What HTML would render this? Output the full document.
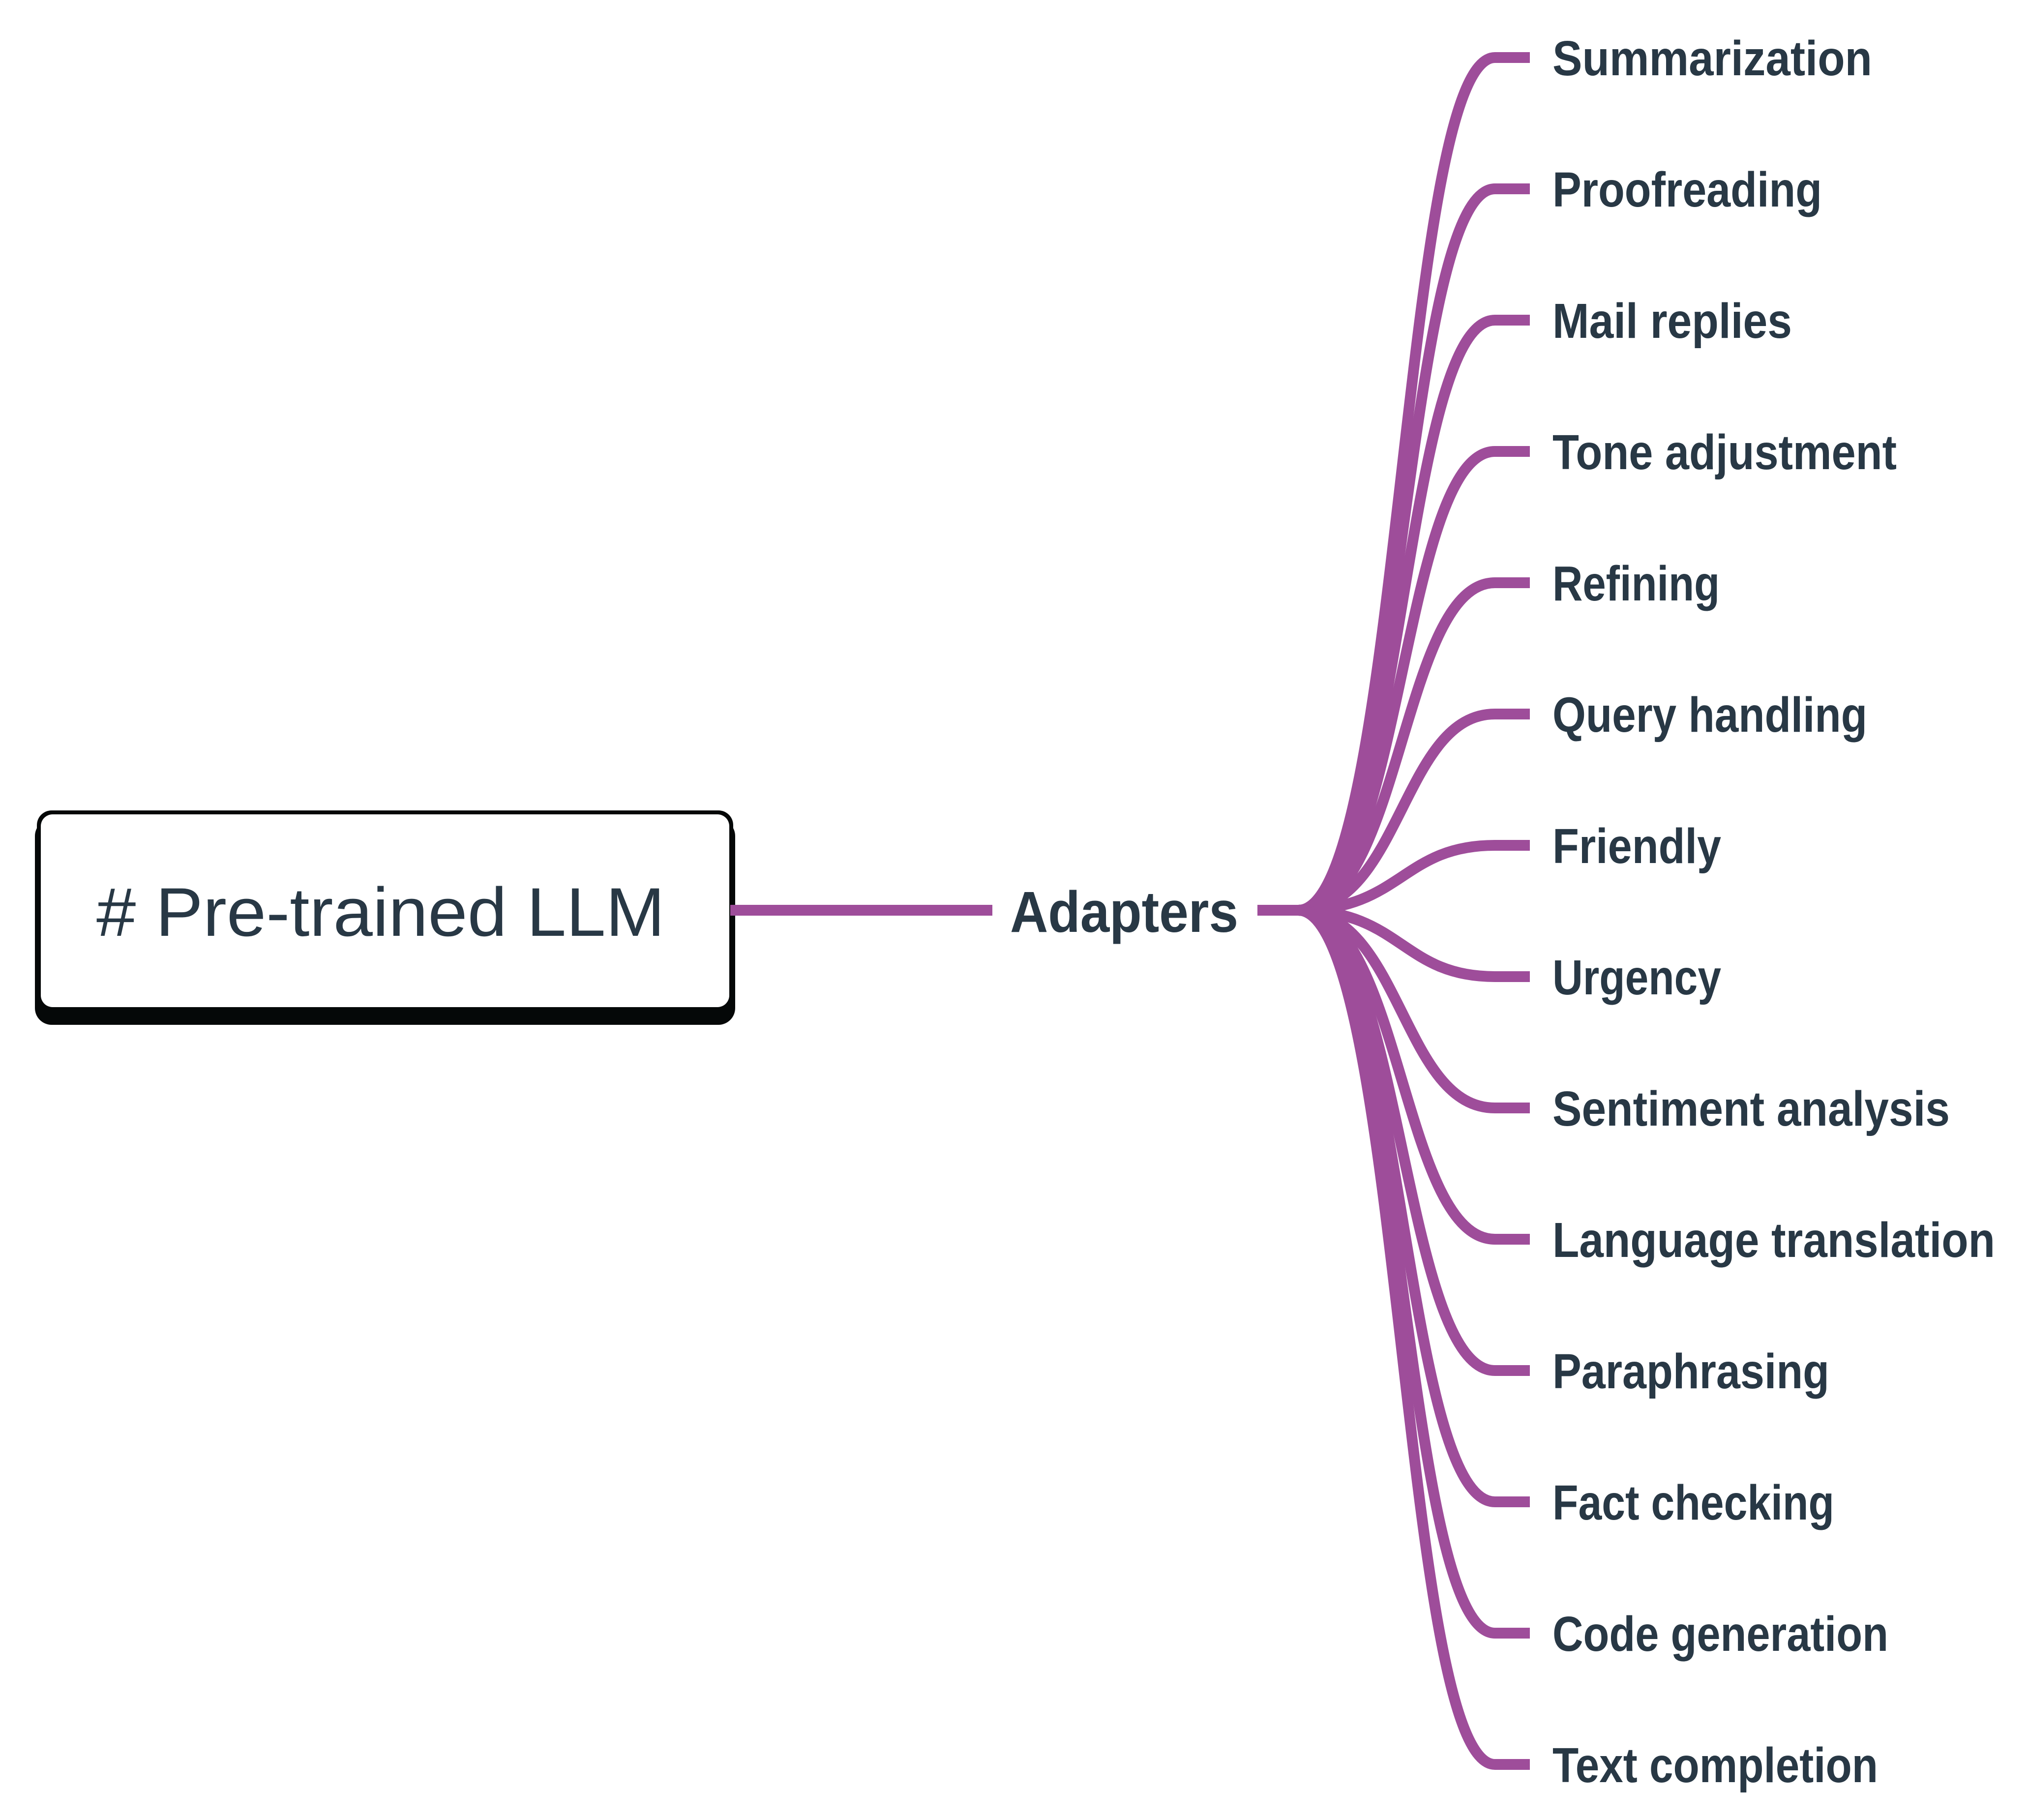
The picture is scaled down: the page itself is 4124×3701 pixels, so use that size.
<!DOCTYPE html>
<html><head><meta charset="utf-8"><style>
html,body{margin:0;padding:0;background:#fff;}
svg{display:block;}
text{font-family:"Liberation Sans","DejaVu Sans",sans-serif;fill:#283845;}
</style></head><body>
<svg width="4124" height="3701" viewBox="0 0 4124 3701" xmlns="http://www.w3.org/2000/svg">
<rect x="0" y="0" width="4124" height="3701" fill="#fff"/>
<!-- root box shadow + border -->
<rect x="71" y="1666" width="1424" height="418" rx="34" fill="#050808"/>
<rect x="75" y="1648" width="1416" height="408" rx="30" fill="#050808"/>
<rect x="83" y="1656" width="1400" height="392" rx="24" fill="#fff"/>
<text x="196" y="1903" font-size="140" textLength="1156" lengthAdjust="spacingAndGlyphs">#  Pre-trained LLM</text>
<g stroke="#9e4d9a" stroke-width="22" fill="none" stroke-linecap="butt">
<line x1="1485" y1="1851" x2="2018" y2="1851"/>
<line x1="2557" y1="1851" x2="2645" y2="1851"/>
<path d="M2640,1851 C2850,1851 2850,117 3040,117 L3111,117"/>
<path d="M2640,1851 C2850,1851 2850,384 3040,384 L3111,384"/>
<path d="M2640,1851 C2850,1851 2850,651 3040,651 L3111,651"/>
<path d="M2640,1851 C2850,1851 2850,918 3040,918 L3111,918"/>
<path d="M2640,1851 C2850,1851 2850,1185 3040,1185 L3111,1185"/>
<path d="M2640,1851 C2850,1851 2850,1452 3040,1452 L3111,1452"/>
<path d="M2640,1851 C2850,1851 2850,1719 3040,1719 L3111,1719"/>
<path d="M2640,1851 C2850,1851 2850,1986 3040,1986 L3111,1986"/>
<path d="M2640,1851 C2850,1851 2850,2253 3040,2253 L3111,2253"/>
<path d="M2640,1851 C2850,1851 2850,2520 3040,2520 L3111,2520"/>
<path d="M2640,1851 C2850,1851 2850,2787 3040,2787 L3111,2787"/>
<path d="M2640,1851 C2850,1851 2850,3054 3040,3054 L3111,3054"/>
<path d="M2640,1851 C2850,1851 2850,3321 3040,3321 L3111,3321"/>
<path d="M2640,1851 C2850,1851 2850,3588 3040,3588 L3111,3588"/>
</g>
<text x="2054" y="1895" font-size="118" font-weight="bold" textLength="464" lengthAdjust="spacingAndGlyphs">Adapters</text>
<g font-size="100" font-weight="bold">
<text x="3157" y="153" textLength="650" lengthAdjust="spacingAndGlyphs">Summarization</text>
<text x="3157" y="420" textLength="548" lengthAdjust="spacingAndGlyphs">Proofreading</text>
<text x="3157" y="687" textLength="487" lengthAdjust="spacingAndGlyphs">Mail replies</text>
<text x="3157" y="954" textLength="700" lengthAdjust="spacingAndGlyphs">Tone adjustment</text>
<text x="3157" y="1221" textLength="340" lengthAdjust="spacingAndGlyphs">Refining</text>
<text x="3157" y="1488" textLength="640" lengthAdjust="spacingAndGlyphs">Query handling</text>
<text x="3157" y="1755" textLength="343" lengthAdjust="spacingAndGlyphs">Friendly</text>
<text x="3157" y="2022" textLength="343" lengthAdjust="spacingAndGlyphs">Urgency</text>
<text x="3157" y="2289" textLength="808" lengthAdjust="spacingAndGlyphs">Sentiment analysis</text>
<text x="3157" y="2556" textLength="900" lengthAdjust="spacingAndGlyphs">Language translation</text>
<text x="3157" y="2823" textLength="563" lengthAdjust="spacingAndGlyphs">Paraphrasing</text>
<text x="3157" y="3090" textLength="573" lengthAdjust="spacingAndGlyphs">Fact checking</text>
<text x="3157" y="3357" textLength="683" lengthAdjust="spacingAndGlyphs">Code generation</text>
<text x="3157" y="3624" textLength="662" lengthAdjust="spacingAndGlyphs">Text completion</text>
</g>
</svg>
</body></html>
